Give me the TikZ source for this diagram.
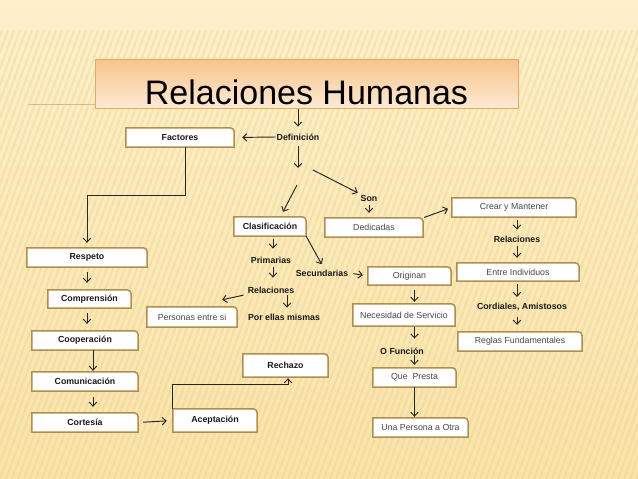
\documentclass[tikz,border=0pt]{standalone}
\usepackage{fontspec}
\setmainfont{Liberation Sans}
\usepackage{tikz}
\usetikzlibrary{arrows.meta, positioning}

\definecolor{fondoclaro}{RGB}{253,240,202}
\definecolor{fondoosc}{RGB}{249,227,168}
\definecolor{rayas}{RGB}{234,206,140}
\definecolor{borde}{RGB}{176,142,78}
\definecolor{tituloarriba}{RGB}{248,196,140}
\definecolor{tituloabajo}{RGB}{253,234,212}
\definecolor{tituloborde}{RGB}{226,170,100}

\pgfdeclarelayer{fondo}
\pgfdeclarelayer{cajas}
\pgfsetlayers{fondo,cajas,main}

\tikzset{
	flecha/.style={draw=black!85, line width=0.95pt, -{Straight Barb[length=4pt,width=7.5pt]}},
	paso/.style={flecha, shorten <=4pt, shorten >=6pt},
	caja/.style={minimum height=19pt, inner sep=1pt, font=\fontsize{8.8}{10}\selectfont\bfseries, text=black!90},
	cajagris/.style={caja, font=\fontsize{8.8}{10}\selectfont, text=black!72},
	etiqueta/.style={inner sep=1pt, font=\fontsize{8.8}{10}\selectfont\bfseries, text=black!90},
	contorno/.style={draw=borde, line width=1.5pt, fill=white},
	titulo/.style={draw=tituloborde, line width=0.8pt, top color=tituloarriba, bottom color=tituloabajo,
		minimum width=423pt, inner xsep=0pt, inner ysep=0pt, text height=45pt, text depth=4pt,
		font=\fontsize{34}{40}\selectfont}
}

\begin{document}
\begin{tikzpicture}[x=1pt, y=-1pt]
	\useasboundingbox (0,0) rectangle (638,479);

	% fondo de la diapositiva
	\begin{pgfonlayer}{fondo}
		\shade[top color=fondoclaro, bottom color=fondoosc] (0,0) rectangle (638,479);
		\begin{scope}
			\clip (0,30) rectangle (638,479);
			\foreach \k in {-180,-174,...,640}
				\draw[rayas, line width=2pt, opacity=0.35] (\k,479) -- ++(175,-479);
		\end{scope}
		\draw[borde!60, line width=1pt] (28,104) -- (95,104);
	\end{pgfonlayer}

	\node[titulo] (titulo) at (306.5,84) {Relaciones Humanas};

	% etiquetas sueltas
	\node[etiqueta] (def) at (298,137) {Definición};
	\node[etiqueta] (son) at (369,198) {Son};
	\node[etiqueta] (rel1) at (517,239) {Relaciones};
	\node[etiqueta] (cord) at (522,307) {Cordiales, Amistosos};
	\node[etiqueta] (prim) at (271,260) {Primarias};
	\node[etiqueta] (rel2) at (271,290) {Relaciones};
	\node[etiqueta] (sec) at (322,273) {Secundarias};
	\node[etiqueta] (porellas) at (284,317) {Por ellas mismas};
	\node[etiqueta] (ofun) at (402,351) {O Función};

	% cajas
	\node[caja, minimum width=108pt] (fac) at (180,137.5) {Factores};
	\node[caja, minimum width=120pt] (res) at (87,257.5) {Respeto};
	\node[caja, minimum width=83pt, minimum height=18pt] (comp) at (89.5,299) {Comprensión};
	\node[caja, minimum width=106pt] (coop) at (85,340.5) {Cooperación};
	\node[caja, minimum width=106pt] (comu) at (85,381.5) {Comunicación};
	\node[caja, minimum width=106pt] (cort) at (85,422.5) {Cortesía};
	\node[caja, minimum width=84pt, minimum height=23pt] (acep) at (215,420.5) {Aceptación};
	\node[caja, minimum width=85pt, minimum height=23pt] (rech) at (285.5,365.5) {Rechazo};
	\node[caja, minimum width=72pt] (clas) at (270,226.5) {Clasificación};
	\node[cajagris, minimum width=90pt, minimum height=20pt] (pers) at (192,317) {Personas entre si};
	\node[cajagris, minimum width=98pt] (ded) at (374,227.5) {Dedicadas};
	\node[cajagris, minimum width=124pt] (crear) at (514,207.5) {Crear y Mantener};
	\node[cajagris, minimum width=122pt, minimum height=18pt] (entre) at (518,272) {Entre Individuos};
	\node[cajagris, minimum width=124pt] (reglas) at (520,341.5) {Reglas Fundamentales};
	\node[cajagris, minimum width=83pt, minimum height=18pt] (orig) at (409.5,276) {Originan};
	\node[cajagris, minimum width=102pt, minimum height=22pt] (nec) at (404,315) {Necesidad de Servicio};
	\node[cajagris, minimum width=83pt] (que) at (414.5,377.5) {Que~~Presta};
	\node[cajagris, minimum width=95pt] (una) at (420.5,427.5) {Una Persona a Otra};

	\begin{pgfonlayer}{cajas}
		\foreach \c in {fac,res,comp,coop,comu,cort,acep,rech,clas,pers,ded,crear,entre,reglas,orig,nec,que,una}
			\draw[contorno] (\c.south west) -- (\c.north west) -- ([xshift=-4pt]\c.north east)
				arc[start angle=90, end angle=0, radius=4pt] -- (\c.south east) -- cycle;
	\end{pgfonlayer}

	\coordinate (ramal) at (298,168);
	\coordinate (bifA) at (297,185);
	\coordinate (bifB) at (313,170);

	% conectores
	\draw[flecha, shorten >=6pt] (titulo.south -| def.north) -- (def.north);
	\draw[flecha, shorten >=8pt] (def.west) -- (fac.east);
	\draw[flecha, shorten <=5pt] (def.south) -- (ramal);
	\draw[flecha] (bifA) -- ([xshift=13pt,yshift=5pt]clas.north);
	\draw[flecha, shorten >=2pt] (bifB) -- (son.north west);

	\draw[paso, shorten <=3pt, shorten >=5pt] (son.south) -- (son.south |- ded.north);
	\draw[flecha, shorten <=1pt, shorten >=4pt] (ded.north east) -- (crear.west);
	\draw[paso, shorten <=3pt, shorten >=5pt] (crear.south -| rel1.north) -- (rel1.north);
	\draw[paso, shorten <=3pt, shorten >=5pt] (rel1.south) -- (rel1.south |- entre.north);
	\draw[paso, shorten <=3pt, shorten >=5pt] (entre.south -| rel1.south) -- (cord.north -| rel1.south);
	\draw[paso, shorten <=5pt, shorten >=7pt] ([xshift=-5pt]cord.south) -- ([xshift=-5pt]cord.south |- reglas.north);

	\draw[paso, shorten <=3pt, shorten >=7pt] ([xshift=3pt]clas.south) -- ([xshift=3pt]clas.south |- prim.north);
	\draw[paso, shorten <=3pt, shorten >=8pt] ([xshift=2pt]prim.south) -- ([xshift=2pt]prim.south |- rel2.north);
	\draw[flecha, shorten <=3pt] (rel2.south west) -- ([xshift=-15pt,yshift=7pt]pers.north east);
	\draw[paso, shorten <=1pt, shorten >=5pt] ([xshift=16pt]rel2.south) -- ([xshift=3pt]porellas.north);
	\draw[flecha, shorten >=5pt] (clas.south east) -- ([xshift=2pt]sec.north);
	\draw[flecha, shorten <=4pt, shorten >=5pt] (sec.east) -- (orig.west);

	\draw[paso, shorten <=5pt, shorten >=2pt] (orig.south -| que.north) -- (nec.north -| que.north);
	\draw[paso, shorten <=1pt, shorten >=8pt] (nec.south -| que.north) -- (ofun.north -| que.north);
	\draw[flecha, shorten >=3pt] (ofun.south -| que.north) -- (que.north);
	\draw[flecha, shorten >=1pt] (que.south) -- (una.north -| que.south);

	\draw[flecha, shorten >=5pt] ([xshift=5pt]fac.south) -- ++(0,48) -| (res.north);
	\draw[paso, shorten <=5pt, shorten >=7pt] (res.south) -- (res.south |- comp.north);
	\draw[paso, shorten <=5pt, shorten >=7pt] (comp.south -| res.south) -- (res.south |- coop.north);
	\draw[flecha, shorten >=1pt] ([xshift=8pt]coop.south) -- ([xshift=8pt]comu.north);
	\draw[paso, shorten <=6pt, shorten >=6pt] ([xshift=8pt]comu.south) -- ([xshift=8pt]cort.north);
	\draw[paso, shorten <=5pt, shorten >=6pt] (cort.east) -- (acep.west);
	\draw[flecha, shorten >=1pt] (acep.north west) -- ++(0,-24) -| ([xshift=2.5pt]rech.south);
\end{tikzpicture}
\end{document}
